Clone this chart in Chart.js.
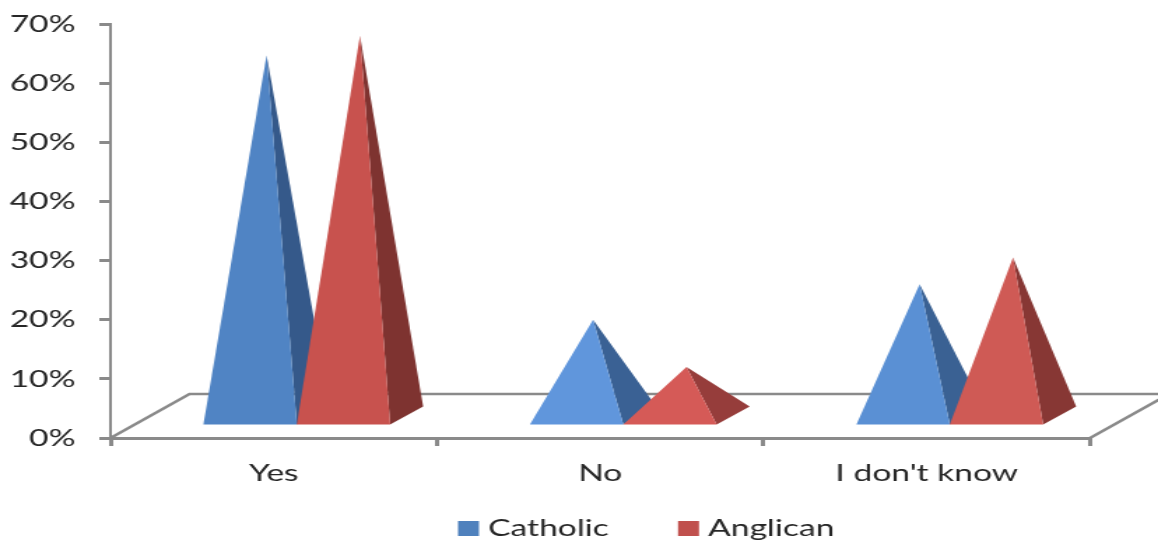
<!DOCTYPE html>
<html>
<head>
<meta charset="utf-8">
<title>Catholic and Anglican responses</title>
<script src="https://cdn.jsdelivr.net/npm/chart.js@4"></script>
<style>
  html, body { margin: 0; padding: 0; background: #fff; overflow: hidden; }
  /* the whole chart is drawn narrow and widened, letters included */
  #wrap { width: 828px; height: 541px; transform: scaleX(1.3986); transform-origin: 0 0; }
  canvas { display: block; }
</style>
</head>
<body>
<div id="wrap"><canvas id="pyramidChart" width="828" height="541"></canvas></div>
<script>
var categories = ["Yes", "No", "I don't know"];
var catholic = [64.7, 20, 26];
var anglican = [68, 12, 30.5];
var yTicks = [0, 10, 20, 30, 40, 50, 60, 70];

/* colours per pyramid: low ones catch more light */
var catholicFront = ['#5084C4', '#6096DC', '#5A90D4'];
var catholicSide = ['#35598A', '#3A6194', '#3A6193'];
var anglicanFront = ['#C8524E', '#D55A57', '#CF5A55'];
var anglicanSide = ['#7E3330', '#963D3B', '#873734'];

var stretch = 1158 / 828;
var AXIS = '#8a8a8a';
var TEXT = '#262626';
var FONT = 'Lato, sans-serif';

function poly(ctx, pts, fill) {
	ctx.beginPath();
	ctx.moveTo(pts[0][0], pts[0][1]);
	for (var i = 1; i < pts.length; i++) ctx.lineTo(pts[i][0], pts[i][1]);
	ctx.closePath();
	ctx.fillStyle = fill;
	ctx.fill();
}

/*---- floor and pyramids, bars only supply the positions ----- */
var pyramids = {
	id: 'pyramids',
	beforeDatasetDraw: function () {
		return false;
	},
	beforeDatasetsDraw: function (chart) {
		var ctx = chart.ctx, a = chart.chartArea;
		var dx = 79 / stretch, dy = 44;
		ctx.save();
		ctx.strokeStyle = AXIS;
		ctx.lineWidth = 2.5;
		ctx.beginPath();
		ctx.moveTo(a.left, a.bottom);
		ctx.lineTo(a.left + dx, a.bottom - dy);
		ctx.lineTo(chart.width, a.bottom - dy);
		ctx.moveTo(a.right, a.bottom);
		ctx.lineTo(a.right + dx, a.bottom - dy);
		ctx.stroke();
		ctx.restore();
	},
	afterDatasetsDraw: function (chart) {
		var ctx = chart.ctx;
		var front = [catholicFront, anglicanFront];
		var side = [catholicSide, anglicanSide];
		var shift = 23 / stretch, lift = 12, deepX = 33 / stretch, deepY = 18;
		categories.forEach(function (c, i) {
			[0, 1].forEach(function (d) {
				var bar = chart.getDatasetMeta(d).data[i];
				var x = bar.x + shift, base = bar.base - lift, half = bar.width / 2;
				var apex = [x + deepX / 2, bar.y];
				var fr = [x + half, base];
				poly(ctx, [apex, fr, [fr[0] + deepX, base - deepY]], side[d][i]);
				poly(ctx, [apex, [x - half, base], fr], front[d][i]);
			});
		});
	}
};

/*---- legend, the built in one keeps too wide a gap after the swatch ----- */
var legendRow = {
	id: 'legendRow',
	afterDraw: function (chart) {
		var ctx = chart.ctx;
		var swatchX = [458 / stretch, 678 / stretch];
		ctx.save();
		ctx.font = '24px ' + FONT;
		ctx.textBaseline = 'alphabetic';
		chart.data.datasets.forEach(function (ds, i) {
			ctx.fillStyle = ds.backgroundColor;
			ctx.fillRect(swatchX[i], 521, 15, 15);
			ctx.fillStyle = TEXT;
			ctx.fillText(ds.label, swatchX[i] + 21.5, 536);
		});
		ctx.restore();
	}
};

var ctx = document.getElementById('pyramidChart').getContext('2d');
var pyramidChart = new Chart(ctx, {
	type: 'bar',
	data: {
		labels: categories,
		datasets: [
			{ label: 'Catholic', data: catholic, backgroundColor: '#4F81BD', borderWidth: 0 },
			{ label: 'Anglican', data: anglican, backgroundColor: '#C0504D', borderWidth: 0 }
		]
	},
	plugins: [pyramids, legendRow],
	options: {
		responsive: false,
		animation: false,
		events: [],
		layout: { padding: { top: 24, right: 68 / stretch, bottom: 43, left: 0 } },
		datasets: { bar: { categoryPercentage: 0.572, barPercentage: 1 } },
		scales: {
			x: {
				grid: { drawOnChartArea: false, color: AXIS, lineWidth: 3, tickLength: 8 },
				border: { color: AXIS, width: 3 },
				ticks: { color: TEXT, padding: 13, maxRotation: 0, font: { family: FONT, size: 24 } },
				afterFit: function (scale) { scale.height = 60; }
			},
			y: {
				min: 0,
				max: 70,
				afterBuildTicks: function (scale) {
					scale.ticks = yTicks.map(function (v) { return { value: v }; });
				},
				grid: { drawOnChartArea: false, color: AXIS, lineWidth: 3, tickLength: 8 },
				border: { color: AXIS, width: 2 },
				ticks: {
					color: TEXT,
					padding: 17,
					font: { family: FONT, size: 24 },
					callback: function (v) { return v + '%'; }
				},
				afterFit: function (scale) {
					scale.width = 110.5 / stretch;
					scale.paddingTop = 0;
					scale.paddingBottom = 0;
				}
			}
		},
		plugins: {
			tooltip: { enabled: false },
			legend: { display: false }
		}
	}
});
</script>
</body>
</html>
